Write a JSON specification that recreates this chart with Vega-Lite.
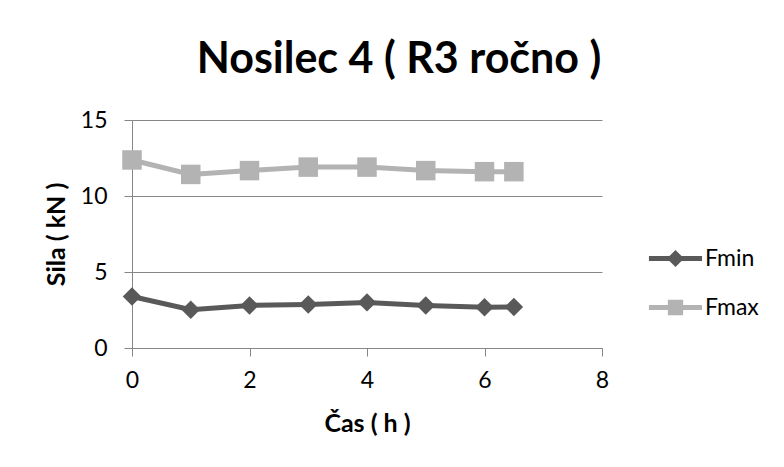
{
  "$schema": "https://vega.github.io/schema/vega-lite/v6.json",
  "width": 470,
  "height": 228,
  "autosize": "none",
  "padding": {"left": 132, "top": 120, "right": 182, "bottom": 119},
  "background": "white",
  "title": {
    "text": "Nosilec 4 ( R3 ročno )",
    "font": "Lato",
    "fontSize": 43,
    "fontWeight": "bold",
    "color": "black",
    "anchor": "middle",
    "dx": 32,
    "offset": 27
  },
  "data": {
    "values": [
      {"t": 0, "F": 3.39, "s": "Fmin"},
      {"t": 1, "F": 2.52, "s": "Fmin"},
      {"t": 2, "F": 2.8, "s": "Fmin"},
      {"t": 3, "F": 2.86, "s": "Fmin"},
      {"t": 4, "F": 3.0, "s": "Fmin"},
      {"t": 5, "F": 2.8, "s": "Fmin"},
      {"t": 6, "F": 2.68, "s": "Fmin"},
      {"t": 6.5, "F": 2.7, "s": "Fmin"},
      {"t": 0, "F": 12.37, "s": "Fmax"},
      {"t": 1, "F": 11.42, "s": "Fmax"},
      {"t": 2, "F": 11.67, "s": "Fmax"},
      {"t": 3, "F": 11.9, "s": "Fmax"},
      {"t": 4, "F": 11.9, "s": "Fmax"},
      {"t": 5, "F": 11.67, "s": "Fmax"},
      {"t": 6, "F": 11.6, "s": "Fmax"},
      {"t": 6.5, "F": 11.6, "s": "Fmax"}
    ]
  },
  "encoding": {
    "x": {
      "field": "t", "type": "quantitative",
      "scale": {"domain": [0, 8], "nice": false},
      "axis": {
        "values": [0, 2, 4, 6, 8], "title": "Čas ( h )", "grid": false, "labelFlush": false,
        "domain": true, "domainColor": "#868686", "tickColor": "#868686", "tickSize": 8,
        "labelFont": "Lato", "labelFontSize": 23, "labelColor": "black", "labelPadding": 13,
        "titleFont": "Lato", "titleFontSize": 25, "titleFontWeight": "bold", "titleColor": "black", "titlePadding": 19
      }
    },
    "y": {
      "field": "F", "type": "quantitative",
      "scale": {"domain": [0, 15], "nice": false},
      "axis": {
        "values": [0, 5, 10, 15], "title": "Sila ( kN )", "grid": true, "gridColor": "#868686",
        "domainColor": "#868686", "tickColor": "#868686", "tickSize": 8,
        "labelFont": "Lato", "labelFontSize": 23, "labelColor": "black", "labelPadding": 17,
        "titleFont": "Lato", "titleFontSize": 25, "titleFontWeight": "bold", "titleColor": "black", "titlePadding": 11
      }
    },
    "color": {
      "field": "s", "type": "nominal",
      "scale": {"domain": ["Fmin", "Fmax"], "range": ["#595959", "#b3b3b3"]},
      "legend": {
        "title": null, "orient": "none", "legendX": 521, "legendY": 116,
        "symbolSize": 2025, "rowPadding": 14, "labelFont": "Lato", "labelFontSize": 23, "labelColor": "black", "labelOffset": 7,
        "encode": {
          "symbols": {
            "update": {
              "shape": {"signal": "datum.value === 'Fmin' ? 'M-1.18,-0.11 L1.18,-0.11 L1.18,0.11 L-1.18,0.11 Z M0,-0.38 L0.38,0 L0,0.38 L-0.38,0 Z' : 'M-1.18,-0.11 L1.18,-0.11 L1.18,0.11 L-1.18,0.11 Z M-0.34,-0.34 L0.34,-0.34 L0.34,0.34 L-0.34,0.34 Z'"},
              "size": {"value": 2025},
              "fill": {"signal": "datum.value === 'Fmin' ? '#595959' : '#b3b3b3'"},
              "fillOpacity": {"value": 1},
              "opacity": {"value": 1},
              "strokeWidth": {"value": 0}
            }
          }
        }
      }
    }
  },
  "layer": [
    {
      "mark": {"type": "line", "strokeWidth": 5}
    },
    {
      "transform": [{"filter": "datum.s === 'Fmin'"}],
      "mark": {"type": "point", "filled": true, "opacity": 1, "shape": "diamond", "size": 340}
    },
    {
      "transform": [{"filter": "datum.s === 'Fmax'"}],
      "mark": {"type": "point", "filled": true, "opacity": 1, "shape": "square", "size": 380}
    }
  ],
  "config": {"view": {"stroke": null}, "axis": {"domainWidth": 1}}
}
